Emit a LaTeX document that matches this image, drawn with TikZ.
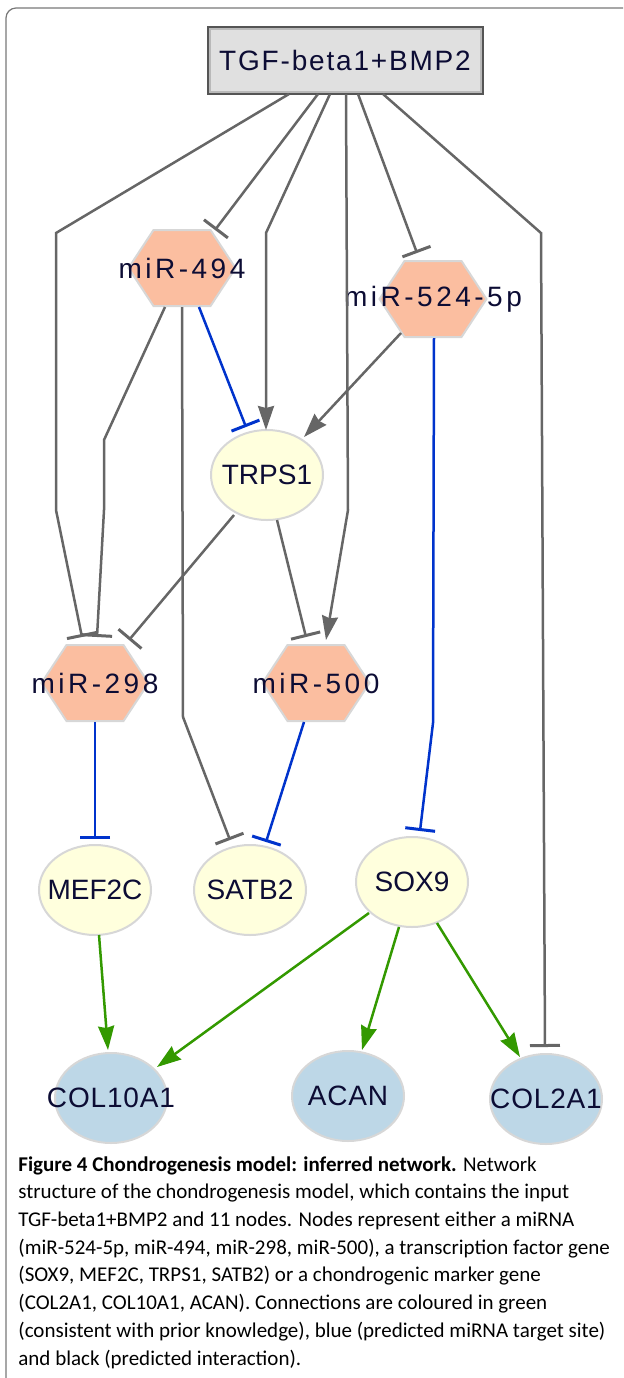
\documentclass[tikz,border=0pt]{standalone}
\usepackage{fontspec}
\setmainfont{Liberation Sans}
\newfontfamily\capfont{Carlito}
\newfontfamily\mirfont[LetterSpace=12.5]{Liberation Sans}
\newfontfamily\inputfont[LetterSpace=6.5]{Liberation Sans}
\newfontfamily\markfont[LetterSpace=3]{Liberation Sans}
\usetikzlibrary{shapes,positioning,arrows.meta,calc}

\definecolor{edgegray}{RGB}{102,102,102}
\definecolor{edgeblue}{RGB}{0,51,204}
\definecolor{edgegreen}{RGB}{51,153,0}
\definecolor{mirfill}{RGB}{251,190,160}
\definecolor{tffill}{RGB}{255,255,221}
\definecolor{markfill}{RGB}{189,215,231}
\definecolor{inputfill}{RGB}{224,224,224}
\definecolor{inputline}{RGB}{85,85,85}
\definecolor{labeltext}{RGB}{12,12,52}
\definecolor{nodeline}{RGB}{215,215,215}
\definecolor{framecol}{RGB}{120,120,120}

\tikzset{
  gene/.style={ellipse, draw=nodeline, line width=1pt, minimum width=56pt,
    minimum height=45pt, inner sep=0pt, text=labeltext,
    font=\fontsize{14pt}{14pt}\selectfont},
  tf/.style={gene, fill=tffill},
  marker/.style={gene, fill=markfill, font=\fontsize{14pt}{14pt}\markfont},
  mirna/.style={rectangle, minimum width=56pt, minimum height=40pt,
    inner sep=0pt, text=labeltext, font=\fontsize{14pt}{14pt}\mirfont,
    path picture={
      \draw[nodeline, fill=mirfill, line width=1pt]
        ([xshift=-26.75pt]path picture bounding box.center)
        -- ++(12.5pt,19pt) -- ++(28.5pt,0pt) -- ++(12.5pt,-19pt)
        -- ++(-12.5pt,-19pt) -- ++(-28.5pt,0pt) -- cycle;}},
  input/.style={rectangle, draw=inputline, line width=1pt, fill=inputfill,
    minimum width=137.5pt, minimum height=33.5pt, inner sep=0pt,
    text=labeltext, font=\fontsize{14pt}{14pt}\inputfont,
    path picture={\draw[gray!55, line width=3pt]
      (path picture bounding box.south west) rectangle
      (path picture bounding box.north east);}},
  act/.style={draw=edgegray, line width=1.25pt, -{Stealth[length=12pt,width=8pt,inset=1pt]}},
  inh/.style={draw=edgegray, line width=1.25pt, -{Bar[width=15pt,line width=1.5pt]}},
  blueinh/.style={inh, draw=edgeblue},
  greenact/.style={act, draw=edgegreen, fill=edgegreen}
}

\begin{document}
\begin{tikzpicture}[x=0.5pt, y=-0.5pt]
  \useasboundingbox (0,0) rectangle (623,1378);
  \clip (0,0) rectangle (623,1378);
  \draw[framecol, line width=0.6pt, rounded corners=5pt] (6,1420) -- (6,8) -- (660,8);

  % nodes
  \node[input] (tgf) at (345,60) {TGF-beta1+BMP2};
  \node[mirna] (m494) at (182,268) {miR-494};
  \node[mirna] (m524) at (433,299) {miR-524-5p};
  \node[tf] (trps1) at (267,475) {\makebox[0pt]{TRPS1}};
  \node[mirna] (m298) at (95,683) {miR-298};
  \node[mirna] (m500) at (316,683) {miR-500};
  \node[tf] (mef2c) at (95,890) {\makebox[0pt]{MEF2C}};
  \node[tf] (satb2) at (250,890) {\makebox[0pt]{SATB2}};
  \node[tf] (sox9) at (412,882) {\makebox[0pt]{SOX9}};
  \node[marker] (col10a1) at (111,1098) {\makebox[0pt]{COL10A1}};
  \node[marker] (acan) at (348,1096) {\makebox[0pt]{ACAN}};
  \node[marker] (col2a1) at (546,1099) {\makebox[0pt]{COL2A1}};

  % predicted interactions
  \draw[inh] ($(tgf)+(-56,34)$) -- (56,233) -- (56,510) -- ($(m298)+(-13,-46)$);
  \draw[inh] ($(tgf)+(-27,34)$) -- ($(m494)+(33,-38)$);
  \draw[act] ($(tgf)+(-15,34)$) -- (266,233) -- ($(trps1)+(-1,-45)$);
  \draw[act] ($(tgf)+(1,34)$) -- (348,510) -- ($(m500)+(10,-43)$);
  \draw[inh] ($(tgf)+(13,34)$) -- ($(m524)+(-16,-46)$);
  \draw[inh] ($(tgf)+(38,34)$) -- (541,233) -- ($(col2a1)+(-1,-52)$);
  \draw[inh] ($(m494)+(-17,39)$) -- (104,440) -- (104,510) -- ($(m298)+(2,-46)$);
  \draw[inh] ($(m494)+(0,39)$) -- (183,717) -- ($(satb2)+(-20,-50)$);
  \draw[act] ($(m524)+(-32,34)$) -- ($(trps1)+(37,-38)$);
  \draw[inh] ($(trps1)+(-33,40)$) -- ($(m298)+(34,-43)$);
  \draw[inh] ($(trps1)+(10,45)$) -- ($(m500)+(-10,-46)$);

  % predicted miRNA target sites
  \draw[blueinh] ($(m494)+(17,39)$) -- ($(trps1)+(-21,-48)$);
  \draw[blueinh] ($(m524)+(1,39)$) -- (433,723) -- ($(sox9)+(8,-51)$);
  \draw[blueinh] ($(m298)+(0,39)$) -- ($(mef2c)+(0,-51)$);
  \draw[blueinh] ($(m500)+(-12,39)$) -- ($(satb2)+(16,-48)$);

  % prior knowledge
  \draw[greenact] ($(mef2c)+(4,45)$) -- ($(col10a1)+(-3,-48)$);
  \draw[greenact] ($(sox9)+(-43,31)$) -- ($(col10a1)+(46,-31)$);
  \draw[greenact] ($(sox9)+(-13,45)$) -- ($(acan)+(14,-46)$);
  \draw[greenact] ($(sox9)+(25,41)$) -- ($(col2a1)+(-26,-42)$);

  \node[anchor=north west, align=left, inner sep=0pt,
        font=\fontsize{10.5pt}{13.85pt}\capfont] (caption) at (18,1156)
    {\textbf{Figure 4 Chondrogenesis model: inferred network.} Network\\
     structure of the chondrogenesis model, which contains the input\\
     TGF-beta1+BMP2 and 11 nodes. Nodes represent either a miRNA\\
     (miR-524-5p, miR-494, miR-298, miR-500), a transcription factor gene\\
     (SOX9, MEF2C, TRPS1, SATB2) or a chondrogenic marker gene\\
     (COL2A1, COL10A1, ACAN). Connections are coloured in green\\
     (consistent with prior knowledge), blue (predicted miRNA target site)\\
     and black (predicted interaction).};
\end{tikzpicture}
\end{document}
